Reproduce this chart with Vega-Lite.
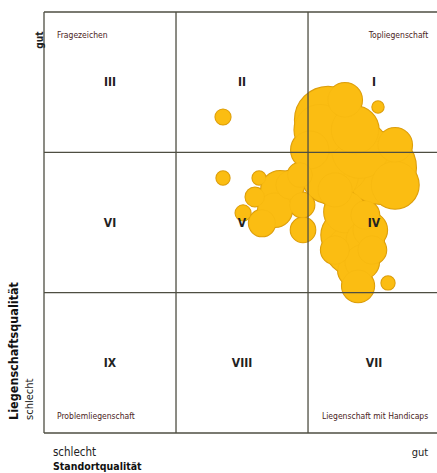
{
  "$schema": "https://vega.github.io/schema/vega-lite/v6.json",
  "width": 393,
  "height": 421,
  "autosize": {"type": "none"},
  "padding": {"left": 44, "top": 12, "right": 0, "bottom": 40},
  "background": "white",
  "config": {"view": {"stroke": null}, "font": "Liberation Sans Narrow, DejaVu Sans Condensed, sans-serif"},
  "datasets": {
    "bubbles": [
      {"id": 17, "x": 2.545, "y": 1.888, "wert": 1444},
      {"id": 13, "x": 2.152, "y": 2.230, "wert": 1225},
      {"id": 16, "x": 2.242, "y": 1.910, "wert": 900},
      {"id": 27, "x": 2.167, "y": 1.838, "wert": 900},
      {"id": 28, "x": 2.394, "y": 2.017, "wert": 900},
      {"id": 26, "x": 2.091, "y": 2.159, "wert": 729},
      {"id": 15, "x": 2.356, "y": 2.159, "wert": 625},
      {"id": 20, "x": 2.280, "y": 1.411, "wert": 625},
      {"id": 30, "x": 2.318, "y": 1.304, "wert": 625},
      {"id": 36, "x": 2.659, "y": 1.767, "wert": 625},
      {"id": 19, "x": 2.280, "y": 1.575, "wert": 484},
      {"id": 8, "x": 1.788, "y": 1.732, "wert": 400},
      {"id": 12, "x": 2.015, "y": 2.017, "wert": 400},
      {"id": 21, "x": 2.432, "y": 1.375, "wert": 400},
      {"id": 29, "x": 2.659, "y": 2.052, "wert": 324},
      {"id": 31, "x": 2.470, "y": 1.447, "wert": 324},
      {"id": 32, "x": 2.356, "y": 1.161, "wert": 324},
      {"id": 33, "x": 1.750, "y": 1.589, "wert": 324},
      {"id": 35, "x": 2.280, "y": 2.373, "wert": 324},
      {"id": 18, "x": 2.205, "y": 1.732, "wert": 324},
      {"id": 22, "x": 2.409, "y": 1.218, "wert": 324},
      {"id": 23, "x": 2.379, "y": 1.047, "wert": 289},
      {"id": 24, "x": 2.205, "y": 1.304, "wert": 225},
      {"id": 25, "x": 2.432, "y": 1.553, "wert": 225},
      {"id": 37, "x": 2.485, "y": 1.304, "wert": 225},
      {"id": 34, "x": 1.864, "y": 1.767, "wert": 225},
      {"id": 7, "x": 1.652, "y": 1.496, "wert": 196},
      {"id": 9, "x": 1.955, "y": 1.625, "wert": 169},
      {"id": 10, "x": 1.962, "y": 1.447, "wert": 169},
      {"id": 11, "x": 1.939, "y": 1.838, "wert": 169},
      {"id": 5, "x": 1.598, "y": 1.682, "wert": 100},
      {"id": 1, "x": 1.356, "y": 2.252, "wert": 64},
      {"id": 6, "x": 1.508, "y": 1.568, "wert": 64},
      {"id": 2, "x": 1.356, "y": 1.817, "wert": 49},
      {"id": 3, "x": 1.629, "y": 1.817, "wert": 49},
      {"id": 4, "x": 2.606, "y": 1.069, "wert": 49},
      {"id": 14, "x": 2.530, "y": 2.323, "wert": 36}
    ]
  },
  "layer": [
    {
      "data": {"name": "bubbles"},
      "mark": {"type": "circle", "opacity": 1, "fill": "#FBBD12", "stroke": "#D99A0A", "strokeWidth": 2},
      "encoding": {
        "x": {"field": "x", "type": "quantitative", "scale": {"domain": [0, 2.977], "nice": false, "zero": false}, "axis": null},
        "y": {"field": "y", "type": "quantitative", "scale": {"domain": [0, 3], "nice": false, "zero": false}, "axis": null},
        "size": {"field": "wert", "type": "quantitative", "scale": {"domain": [0, 1000], "range": [0, 3600], "zero": true}, "legend": null}
      }
    },
    {
      "data": {"name": "bubbles"},
      "mark": {"type": "circle", "opacity": 1, "fill": "#FBBD12", "stroke": "#F2B20E", "strokeWidth": 0.6, "strokeOpacity": 0.6},
      "encoding": {
        "x": {"field": "x", "type": "quantitative"},
        "y": {"field": "y", "type": "quantitative"},
        "size": {"field": "wert", "type": "quantitative", "legend": null}
      }
    },
    {
      "data": {"values": [
        {"x": 0, "y": 0, "y2": 3},
        {"x": 1, "y": 0, "y2": 3},
        {"x": 2, "y": 0, "y2": 3}
      ]},
      "mark": {"type": "rule", "color": "#4e4e42", "strokeWidth": 1.3},
      "encoding": {
        "x": {"field": "x", "type": "quantitative"},
        "y": {"field": "y", "type": "quantitative"},
        "y2": {"field": "y2"}
      }
    },
    {
      "data": {"values": [
        {"y": 0, "x": 0, "x2": 3},
        {"y": 1, "x": 0, "x2": 3},
        {"y": 2, "x": 0, "x2": 3},
        {"y": 3, "x": 0, "x2": 3}
      ]},
      "mark": {"type": "rule", "color": "#4e4e42", "strokeWidth": 1.3},
      "encoding": {
        "y": {"field": "y", "type": "quantitative"},
        "x": {"field": "x", "type": "quantitative"},
        "x2": {"field": "x2"}
      }
    },
    {
      "data": {"values": [
        {"t": "III", "x": 0.5, "y": 2.5},
        {"t": "II", "x": 1.5, "y": 2.5},
        {"t": "I", "x": 2.5, "y": 2.5},
        {"t": "VI", "x": 0.5, "y": 1.5},
        {"t": "V", "x": 1.5, "y": 1.5},
        {"t": "IV", "x": 2.5, "y": 1.5},
        {"t": "IX", "x": 0.5, "y": 0.5},
        {"t": "VIII", "x": 1.5, "y": 0.5},
        {"t": "VII", "x": 2.5, "y": 0.5}
      ]},
      "mark": {"type": "text", "fontSize": 12, "fontWeight": "bold", "color": "#222222", "align": "center", "baseline": "middle"},
      "encoding": {
        "x": {"field": "x", "type": "quantitative"},
        "y": {"field": "y", "type": "quantitative"},
        "text": {"field": "t"}
      }
    },
    {
      "data": {"values": [
        {"t": "Fragezeichen", "x": 0.098, "y": 2.836},
        {"t": "Problemliegenschaft", "x": 0.098, "y": 0.12}
      ]},
      "mark": {"type": "text", "fontSize": 8.5, "color": "#4a1c1c", "align": "left", "baseline": "middle"},
      "encoding": {
        "x": {"field": "x", "type": "quantitative"},
        "y": {"field": "y", "type": "quantitative"},
        "text": {"field": "t"}
      }
    },
    {
      "data": {"values": [
        {"t": "Topliegenschaft", "x": 2.91, "y": 2.836},
        {"t": "Liegenschaft mit Handicaps", "x": 2.91, "y": 0.12}
      ]},
      "mark": {"type": "text", "fontSize": 8.5, "color": "#4a1c1c", "align": "right", "baseline": "middle"},
      "encoding": {
        "x": {"field": "x", "type": "quantitative"},
        "y": {"field": "y", "type": "quantitative"},
        "text": {"field": "t"}
      }
    },
    {
      "data": {"values": [
        {"t": "gut", "x": -0.03, "y": 2.8}
      ]},
      "mark": {"type": "text", "fontSize": 10, "fontWeight": "bold", "color": "#222222", "angle": 270, "align": "center", "baseline": "middle"},
      "encoding": {
        "x": {"field": "x", "type": "quantitative"},
        "y": {"field": "y", "type": "quantitative"},
        "text": {"field": "t"}
      }
    },
    {
      "data": {"values": [
        {"t": "schlecht", "x": -0.106, "y": 0.093}
      ]},
      "mark": {"type": "text", "fontSize": 11, "color": "#222222", "angle": 270, "align": "left", "baseline": "middle"},
      "encoding": {
        "x": {"field": "x", "type": "quantitative"},
        "y": {"field": "y", "type": "quantitative"},
        "text": {"field": "t"}
      }
    },
    {
      "data": {"values": [
        {"t": "Liegenschaftsqualität", "x": -0.227, "y": 0.093}
      ]},
      "mark": {"type": "text", "fontSize": 12.5, "fontWeight": "bold", "color": "#111111", "angle": 270, "align": "left", "baseline": "middle"},
      "encoding": {
        "x": {"field": "x", "type": "quantitative"},
        "y": {"field": "y", "type": "quantitative"},
        "text": {"field": "t"}
      }
    },
    {
      "data": {"values": [
        {"t": "schlecht", "x": 0.068, "y": -0.143}
      ]},
      "mark": {"type": "text", "fontSize": 11.5, "color": "#222222", "align": "left", "baseline": "middle"},
      "encoding": {
        "x": {"field": "x", "type": "quantitative"},
        "y": {"field": "y", "type": "quantitative"},
        "text": {"field": "t"}
      }
    },
    {
      "data": {"values": [
        {"t": "gut", "x": 2.91, "y": -0.143}
      ]},
      "mark": {"type": "text", "fontSize": 11, "color": "#222222", "align": "right", "baseline": "middle"},
      "encoding": {
        "x": {"field": "x", "type": "quantitative"},
        "y": {"field": "y", "type": "quantitative"},
        "text": {"field": "t"}
      }
    },
    {
      "data": {"values": [
        {"t": "Standortqualität", "x": 0.068, "y": -0.242}
      ]},
      "mark": {"type": "text", "fontSize": 10.5, "fontWeight": "bold", "color": "#111111", "align": "left", "baseline": "middle"},
      "encoding": {
        "x": {"field": "x", "type": "quantitative"},
        "y": {"field": "y", "type": "quantitative"},
        "text": {"field": "t"}
      }
    }
  ]
}
